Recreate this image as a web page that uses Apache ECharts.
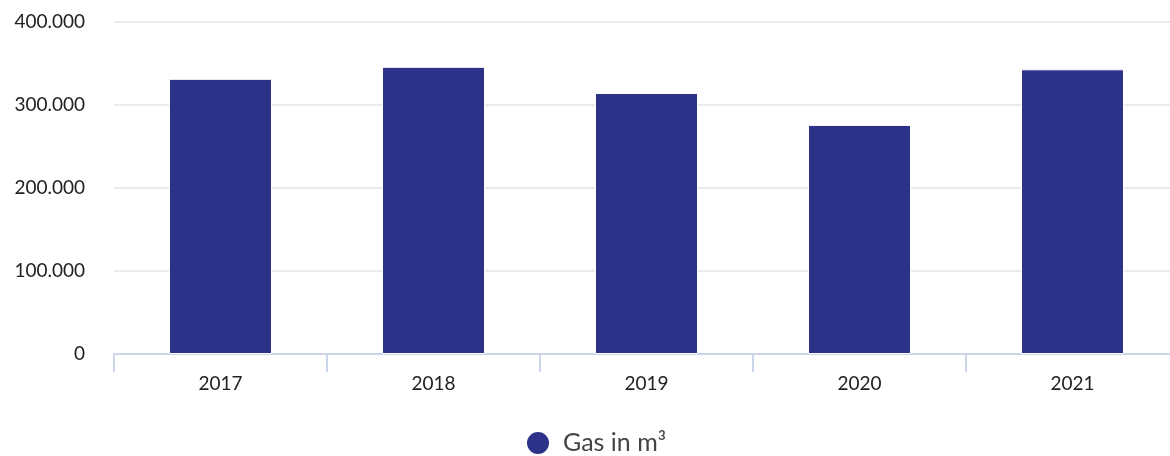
<!DOCTYPE html>
<html><head><meta charset="utf-8">
<script src="https://cdn.jsdelivr.net/npm/echarts@6/dist/echarts.min.js"></script>
<style>html,body{margin:0;padding:0;background:#fff;overflow:hidden}#c{width:1190px;height:456px}</style>
</head><body><div id="c"></div>
<script>
const categories = ['2017','2018','2019','2020','2021'];
const gasValues = [331500, 346000, 314500, 276000, 343000];
const yTicks = [0, 100000, 200000, 300000, 400000];
const seriesName = 'Gas in m³';

const chart = echarts.init(document.getElementById('c'));
function fmt(v){ return String(v).replace(/\B(?=(\d{3})+(?!\d))/g, '.'); }
chart.setOption({
  animation: false,
  textStyle: { fontFamily: 'Lato, "Noto Sans", sans-serif' },
  grid: { left: 114, top: 22, width: 1065, height: 332, containLabel: false },
  legend: {
    data: [seriesName], top: 430, left: 525, icon: 'circle', padding: 0,
    itemWidth: 24, itemHeight: 24, itemGap: 14,
    textStyle: { fontSize: 25, color: '#444', fontFamily: 'Lato, sans-serif', padding: [0, 0, 0, 8] }
  },
  xAxis: {
    type: 'category', data: categories,
    axisLine: { lineStyle: { color: '#ccd6eb', width: 2 } },
    axisTick: { show: true, length: 18, lineStyle: { color: '#ccd6eb', width: 2 } },
    axisLabel: { fontSize: 19, color: '#222', margin: 20 }
  },
  yAxis: {
    type: 'value', min: 0, max: 400000, interval: 100000,
    axisLine: { show: false }, axisTick: { show: false },
    splitLine: { lineStyle: { color: '#e6e6e6', width: 1.5 } },
    axisLabel: { fontSize: 19, color: '#222', margin: 29,
      formatter: v => yTicks.includes(v) ? fmt(v) : '' }
  },
  series: [{
    name: seriesName, type: 'bar', data: gasValues, barWidth: 103,
    itemStyle: { color: '#2b3288', borderColor: '#ffffff', borderWidth: 1 }
  }]
});
</script></body></html>
